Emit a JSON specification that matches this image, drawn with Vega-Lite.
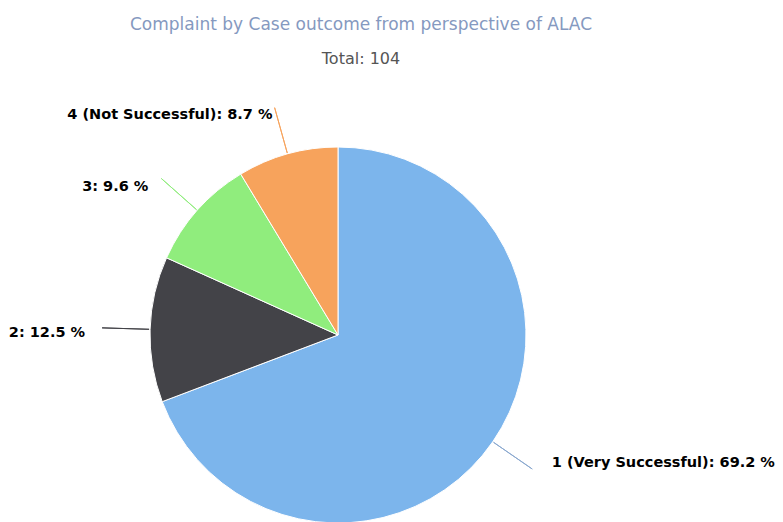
{
  "$schema": "https://vega.github.io/schema/vega-lite/v6.json",
  "width": 676,
  "height": 374,
  "autosize": {"type": "none"},
  "padding": {"left": 0, "top": 148, "right": 107, "bottom": 0},
  "background": "white",
  "title": {
    "text": "Complaint by Case outcome from perspective of ALAC",
    "subtitle": "Total: 104",
    "anchor": "middle",
    "frame": "group",
    "offset": 4,
    "dx": 23,
    "font": "DejaVu Sans",
    "fontSize": 17,
    "fontWeight": "normal",
    "color": "#8599c0",
    "subtitleFont": "DejaVu Sans",
    "subtitleFontSize": 16,
    "subtitleColor": "#555555",
    "subtitlePadding": 17
  },
  "data": {
    "values": [
      {"outcome": "1 (Very Successful)", "count": 72, "label": "1 (Very Successful): 69.2 %"},
      {"outcome": "2", "count": 13, "label": "2: 12.5 %"},
      {"outcome": "3", "count": 10, "label": "3: 9.6 %"},
      {"outcome": "4 (Not Successful)", "count": 9, "label": "4 (Not Successful): 8.7 %"}
    ]
  },
  "resolve": {"scale": {"theta": "independent"}},
  "layer": [
    {
      "mark": {"type": "arc", "stroke": "white", "strokeWidth": 1, "outerRadius": 188},
      "encoding": {
        "theta": {"field": "count", "type": "quantitative", "stack": true},
        "order": {"field": "outcome", "sort": "ascending"},
        "color": {
          "field": "outcome",
          "type": "nominal",
          "scale": {"domain": ["1 (Very Successful)", "2", "3", "4 (Not Successful)"], "range": ["#7cb5ec", "#434348", "#90ed7d", "#f7a35c"]},
          "legend": null
        }
      }
    },
    {
      "mark": {"type": "arc", "radius": 189, "radius2": 236, "padAngle": 4, "fillOpacity": 0, "strokeWidth": 1},
      "encoding": {
        "theta": {"field": "count", "type": "quantitative", "stack": true},
        "order": {"field": "outcome", "sort": "ascending"},
        "stroke": {
          "condition": {"test": "datum.outcome == '1 (Very Successful)'", "value": "transparent"},
          "field": "outcome",
          "type": "nominal",
          "scale": {"domain": ["1 (Very Successful)", "2", "3", "4 (Not Successful)"], "range": ["#7cb5ec", "#434348", "#90ed7d", "#f7a35c"]},
          "legend": null
        }
      }
    },
    {
      "mark": {"type": "arc", "radius": 189, "radius2": 236, "padAngle": 3.14, "fillOpacity": 0, "strokeWidth": 1},
      "encoding": {
        "theta": {"field": "count", "type": "quantitative", "stack": true, "scale": {"range": [1.0873, 4.2289]}},
        "order": {"field": "outcome", "sort": "ascending"},
        "stroke": {
          "condition": {"test": "datum.outcome == '1 (Very Successful)'", "value": "#8aa8cf"},
          "value": "transparent"
        }
      }
    },
    {
      "mark": {"type": "text", "radius": 229, "dx": -4, "dy": 1, "align": "right", "baseline": "middle", "font": "DejaVu Sans", "fontSize": 14.5, "fontWeight": "bold", "color": "#000000"},
      "encoding": {
        "theta": {"field": "count", "type": "quantitative", "stack": true},
        "order": {"field": "outcome", "sort": "ascending"},
        "text": {"condition": {"test": "datum.outcome == '4 (Not Successful)'", "field": "label"}, "value": ""}
      }
    },
    {
      "mark": {"type": "text", "radius": 240, "dx": -10, "dy": 11, "align": "right", "baseline": "middle", "font": "DejaVu Sans", "fontSize": 14.5, "fontWeight": "bold", "color": "#000000"},
      "encoding": {
        "theta": {"field": "count", "type": "quantitative", "stack": true},
        "order": {"field": "outcome", "sort": "ascending"},
        "text": {"condition": {"test": "datum.outcome == '3'", "field": "label"}, "value": ""}
      }
    },
    {
      "mark": {"type": "text", "radius": 253, "dy": 6, "align": "right", "baseline": "middle", "font": "DejaVu Sans", "fontSize": 14.5, "fontWeight": "bold", "color": "#000000"},
      "encoding": {
        "theta": {"field": "count", "type": "quantitative", "stack": true},
        "order": {"field": "outcome", "sort": "ascending"},
        "text": {"condition": {"test": "datum.outcome == '2'", "field": "label"}, "value": ""}
      }
    },
    {
      "mark": {"type": "text", "radius": 250, "dx": 8, "dy": -14, "align": "left", "baseline": "middle", "font": "DejaVu Sans", "fontSize": 14.5, "fontWeight": "bold", "color": "#000000"},
      "encoding": {
        "theta": {"field": "count", "type": "quantitative", "stack": true},
        "order": {"field": "outcome", "sort": "ascending"},
        "text": {"condition": {"test": "datum.outcome == '1 (Very Successful)'", "field": "label"}, "value": ""}
      }
    }
  ]
}
